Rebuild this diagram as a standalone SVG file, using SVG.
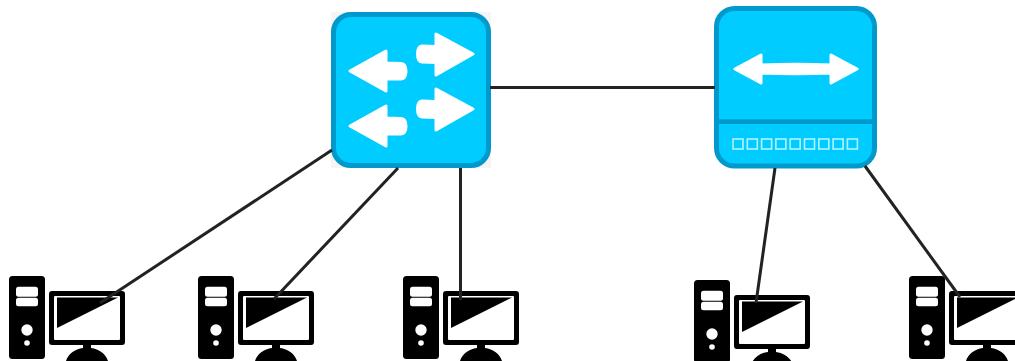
<svg xmlns="http://www.w3.org/2000/svg" width="1015" height="361" viewBox="0 0 1015 361">
<style>
.link{stroke:#222;stroke-width:3;fill:none}
.box{fill:#00ccff;stroke:#0099cc;stroke-width:5}
.arr{fill:#fff;stroke:#fff;stroke-width:3;stroke-linejoin:round}
.port{fill:none;stroke:#b3f2ff;stroke-width:1.6}
</style>
<defs>
<g id="pc">
<rect x="0" y="0" width="36" height="83" rx="3.500" fill="#000"/>
<rect x="7" y="10.700" width="22" height="10" rx="2.500" fill="#fff"/>
<rect x="7" y="21.700" width="22" height="8.500" rx="2.500" fill="#fff"/>
<circle cx="18" cy="54" r="5.700" fill="#fff"/>
<circle cx="18" cy="67" r="2.800" fill="#fff"/>
<rect x="40" y="15" width="76" height="54" rx="3" fill="#000"/>
<rect x="45" y="20" width="66" height="44" rx="1" fill="#fff"/>
<path d="M48 21.500H109L48 52Z" fill="#000"/>
<path d="M74 69H82V72C90 73 97 78 99 85H57C59 78 66 73 74 72Z" fill="#000"/>
</g>
</defs>
<g id="switch-left">
<rect x="331" y="12" width="160" height="156" fill="#f5f5f5"/>
<rect class="box" x="333.500" y="14.500" width="155" height="151" rx="17.500"/>
<path class="arr" d="M350 71L386 51V63L401 63.500Q406 64 406 71Q406 78.500 401 79L386 79V91Z"/>
<path class="arr" d="M473 54L436 34V46.500L422 46Q417.500 46.500 417.500 54Q417.500 61.500 422 62L436 62.500V75Z"/>
<path class="arr" d="M350 126L386 106V118L401 118.500Q406 119 406 126Q406 133.500 401 134L386 134V146Z"/>
<path class="arr" d="M473 109L436 89V101.500L422 101Q417.500 101.500 417.500 109Q417.500 116.500 422 117L436 117.500V130Z"/>
</g>
<g id="switch-right">
<rect class="box" x="716.500" y="8.500" width="158" height="157.500" rx="18"/>
<line x1="717" y1="121.700" x2="874" y2="121.700" stroke="#0099cc" stroke-width="4.700"/>
<path class="arr" d="M735 69L761 55V65Q795 63.500 831 65V55L857 69L831 83V73Q795 74.500 761 73V83Z"/>
<g class="ports">
<rect class="port" x="733" y="139" width="10" height="10"/>
<rect class="port" x="747.300" y="139" width="10" height="10"/>
<rect class="port" x="761.600" y="139" width="10" height="10"/>
<rect class="port" x="775.900" y="139" width="10" height="10"/>
<rect class="port" x="790.200" y="139" width="10" height="10"/>
<rect class="port" x="804.500" y="139" width="10" height="10"/>
<rect class="port" x="818.800" y="139" width="10" height="10"/>
<rect class="port" x="833.100" y="139" width="10" height="10"/>
<rect class="port" x="847.400" y="139" width="10" height="10"/>
</g>
</g>
<g id="pc-1"><use href="#pc" x="9" y="276"/></g>
<g id="pc-2"><use href="#pc" x="198" y="276"/></g>
<g id="pc-3"><use href="#pc" x="403" y="276"/></g>
<g id="pc-4"><use href="#pc" x="694" y="280"/></g>
<g id="pc-5"><use href="#pc" x="909" y="276"/></g>
<g id="connectors">
<line class="link" x1="490" y1="87.500" x2="715" y2="87.500"/>
<line class="link" x1="332" y1="150" x2="100" y2="303"/>
<line class="link" x1="398" y1="168" x2="274" y2="299"/>
<line class="link" x1="460.500" y1="168" x2="460.500" y2="300"/>
<line class="link" x1="775" y1="168" x2="756" y2="303"/>
<line class="link" x1="865" y1="166" x2="960" y2="297"/>
</g>
</svg>
